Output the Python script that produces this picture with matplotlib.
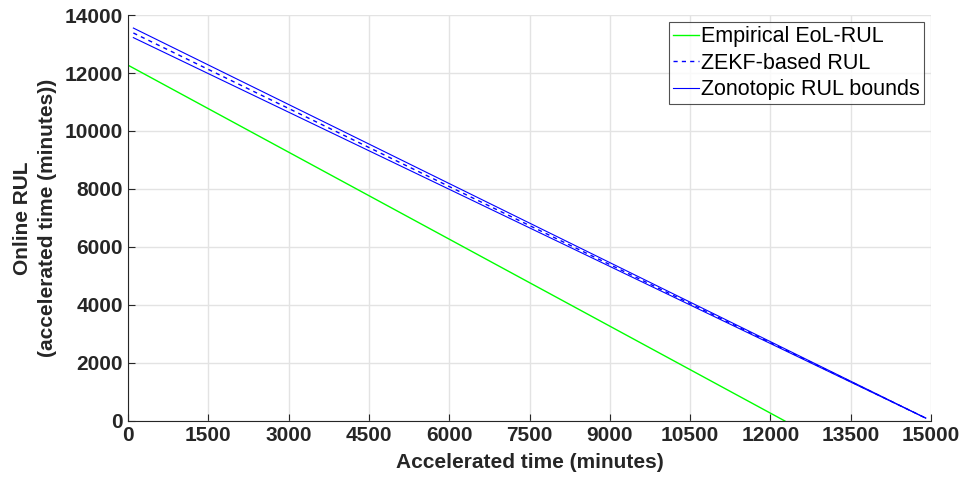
import numpy as np
import matplotlib
matplotlib.use("Agg")
import matplotlib.pyplot as plt

plt.rcParams["font.family"] = ["Liberation Sans", "DejaVu Sans"]

# end points of the straight RUL lines (accelerated time in minutes)
t_emp = [0, 12270]
rul_emp = [12270, 0]
t_zekf = [100, 14900]
rul_zekf = [13380, 100]
rul_upper = [13550, 100]
rul_lower = [13220, 100]

xticks = np.arange(0, 15001, 1500)
yticks = np.arange(0, 14001, 2000)

fig = plt.figure(figsize=(9.64, 4.84), dpi=100)
ax = fig.add_axes([0.1328, 0.1302, 0.8330, 0.8388])

ax.plot(t_emp, rul_emp, color="#00ff00", lw=1.0, label="Empirical EoL-RUL")
ax.plot(t_zekf, rul_zekf, color="#0000ff", lw=1.0, ls=(0, (3, 3)), label="ZEKF-based RUL")
ax.plot(t_zekf, rul_upper, color="#0000ff", lw=0.8, label="Zonotopic RUL bounds")
ax.plot(t_zekf, rul_lower, color="#0000ff", lw=0.8)

ax.set_xlim(0, 15000)
ax.set_ylim(0, 14000)
ax.set_xticks(xticks)
ax.set_yticks(yticks)
ax.grid(True, color="#e3e3e3", lw=1.0)
ax.set_axisbelow(True)
ax.tick_params(direction="in", length=5, width=0.8, colors="#262626",
               labelsize=15, top=False, right=False)
for lab in ax.get_xticklabels() + ax.get_yticklabels():
    lab.set_fontweight("bold")
for s in ["left", "bottom"]:
    ax.spines[s].set_color("#262626")
for s in ["top", "right"]:
    ax.spines[s].set_visible(False)

ax.set_xlabel("Accelerated time (minutes)", fontsize=15, fontweight="bold",
              color="#262626", labelpad=6)
ax.set_ylabel("Online RUL\n(accelerated time (minutes))", fontsize=15,
              fontweight="bold", color="#262626", labelpad=6, linespacing=1.4)

leg = ax.legend(loc="upper right", fontsize=15.5, frameon=True, fancybox=False,
                edgecolor="#262626", borderpad=0.2, labelspacing=0.25,
                handlelength=1.2, handletextpad=0.1, borderaxespad=0.33)
leg.get_frame().set_linewidth(0.8)

fig.savefig("out.png", dpi=100)
